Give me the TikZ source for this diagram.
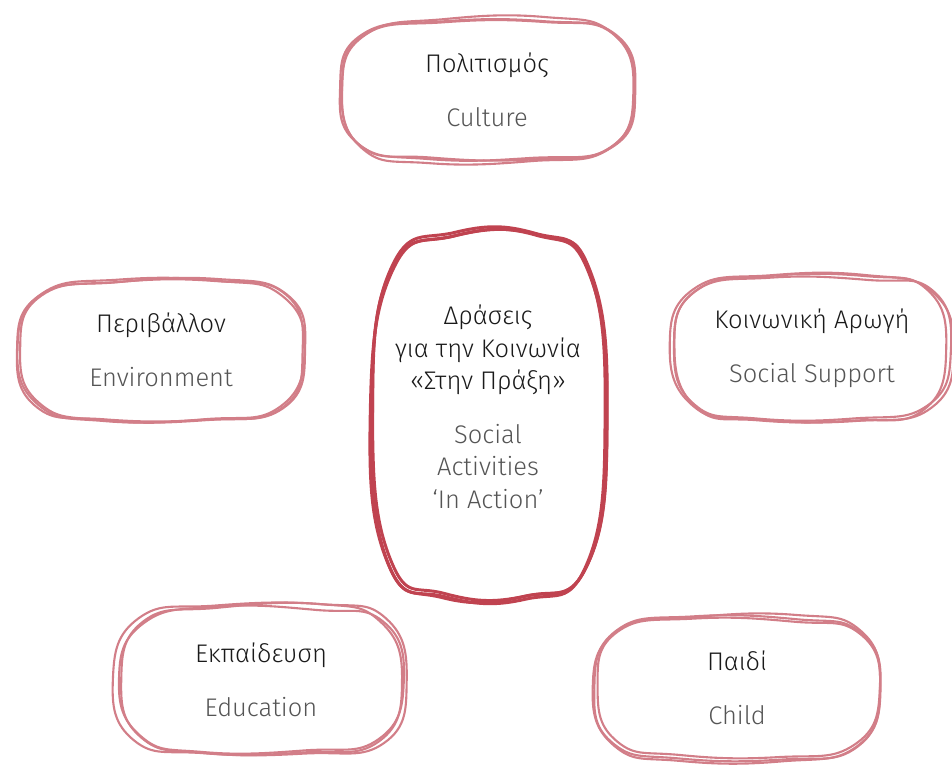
\documentclass[tikz,border=0pt]{standalone}
\usepackage{fontspec}
\IfFontExistsTF{Fira Sans Light}{\setmainfont{Fira Sans Light}}{\setmainfont{Fira Sans}}
\usetikzlibrary{calc}
\definecolor{blobpink}{HTML}{D27E88}
\definecolor{blobred}{HTML}{C04350}
\definecolor{engtext}{HTML}{555555}
\definecolor{grtext}{HTML}{1A1A1A}
\tikzset{
  blobtext/.style={align=center,text=grtext,font=\fontsize{14.5}{18.5}\selectfont},
  outline/.style={blobpink,line width=1.2pt},
  core/.style={blobred,line width=1.7pt}
}
\newcommand\eng[1]{\textcolor{engtext}{#1}}
% #1 centre, #2 half width, #3 half height, #4 style, #5 jitter
\newcommand\sketchblob[5]{%
  \foreach \k in {1,...,3}{
    \pgfmathsetmacro\dx{#5*rand}
    \pgfmathsetmacro\dy{#5*rand}
    \pgfmathsetmacro\aa{#2*(1+0.025*rand)}
    \pgfmathsetmacro\bb{#3*(1+0.04*rand)}
    \draw[#4,shift={(\dx,\dy)}] plot[smooth cycle,tension=0.8] coordinates {
      ($(#1)+({-\aa+2*rand},{2*rand})$)
      ($(#1)+({-0.84*\aa+2*rand},{-0.8*\bb+2*rand})$)
      ($(#1)+({-0.3*\aa+2*rand},{-\bb+2*rand})$)
      ($(#1)+({0.4*\aa+2*rand},{-\bb+2*rand})$)
      ($(#1)+({0.86*\aa+2*rand},{-0.8*\bb+2*rand})$)
      ($(#1)+({\aa+2*rand},{2*rand})$)
      ($(#1)+({0.84*\aa+2*rand},{0.82*\bb+2*rand})$)
      ($(#1)+({0.3*\aa+2*rand},{\bb+2*rand})$)
      ($(#1)+({-0.4*\aa+2*rand},{\bb+2*rand})$)
      ($(#1)+({-0.86*\aa+2*rand},{0.8*\bb+2*rand})$)
    };
  }
}

\begin{document}
\begin{tikzpicture}[x=0.02cm,y=-0.02cm]
  \pgfmathsetseed{11}
  \useasboundingbox (0,0) rectangle (952,767);

  \node[blobtext] (culture) at (487,90) {Πολιτισμός\\[12pt]\eng{Culture}};
  \node[blobtext] (environment) at (161,350) {Περιβάλλον\\[12pt]\eng{Environment}};
  \node[blobtext] (support) at (812,348) {Κοινωνική Αρωγή\\[12pt]\eng{Social Support}};
  \node[blobtext] (education) at (261,680) {Εκπαίδευση\\[12pt]\eng{Education}};
  \node[blobtext] (child) at (737,688) {Παιδί\\[12pt]\eng{Child}};
  \node[blobtext] (action) at (488,407) {Δράσεις\\για την Κοινωνία\\«Στην Πράξη»\\[12pt]
    \eng{Social}\\\eng{Activities}\\\eng{‘In Action’}};
  \coordinate (actionring) at (490,416);

  \sketchblob{culture}{144}{70}{outline}{6}
  \sketchblob{environment}{143}{72}{outline}{6}
  \sketchblob{support}{138}{72}{outline}{6}
  \sketchblob{education}{144}{74}{outline}{6}
  \sketchblob{child}{144}{70}{outline}{6}
  \sketchblob{actionring}{118}{180}{core}{8}
\end{tikzpicture}
\end{document}
